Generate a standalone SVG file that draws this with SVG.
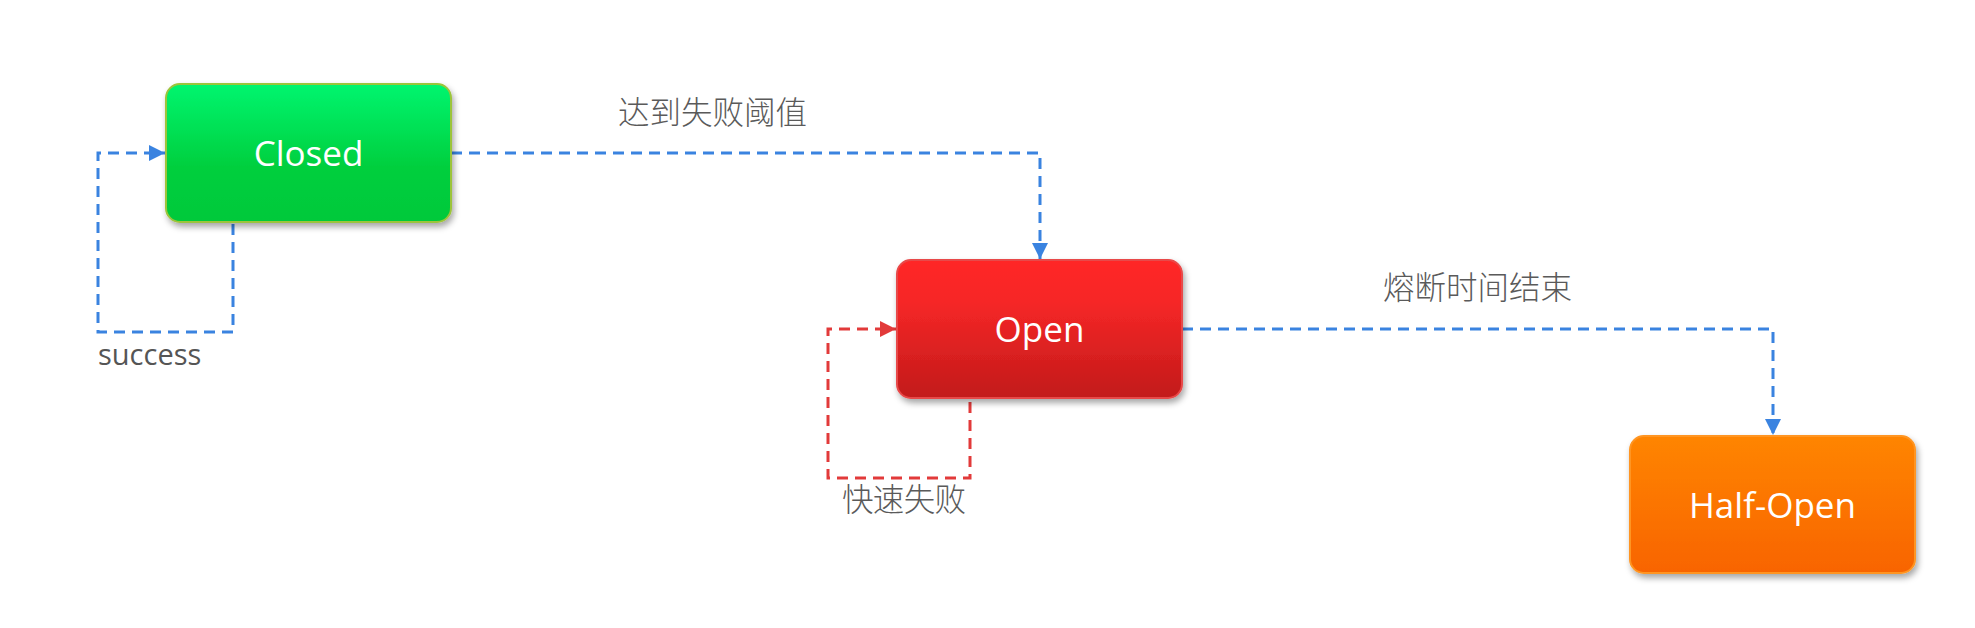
<svg xmlns="http://www.w3.org/2000/svg" width="1975" height="628" viewBox="0 0 1975 628">
<style>
.node-label{font-family:"Open Sans","Noto Sans",sans-serif;font-size:35px;fill:#ffffff;text-anchor:middle;}
.edge-label{font-family:"Noto Sans CJK SC","Noto Sans",sans-serif;font-size:31.5px;font-weight:300;fill:#5a5a5a;}
.latin-label{font-family:"Open Sans","Noto Sans",sans-serif;font-size:29px;fill:#555555;}
.blue{fill:none;stroke:#3a83e0;stroke-width:3;stroke-dasharray:11 7;}
.red{fill:none;stroke:#e23a3a;stroke-width:3;stroke-dasharray:11 7;}
</style>
<defs>
<linearGradient id="gGreen" x1="0" y1="0" x2="0" y2="1">
<stop offset="0" stop-color="#00f56f"/>
<stop offset="0.6" stop-color="#00cf3e"/>
<stop offset="1" stop-color="#00c93a"/>
</linearGradient>
<linearGradient id="gRed" x1="0" y1="0" x2="0" y2="1">
<stop offset="0" stop-color="#ff2828"/>
<stop offset="0.3" stop-color="#f62727"/>
<stop offset="1" stop-color="#c21a1a"/>
</linearGradient>
<linearGradient id="gOrange" x1="0" y1="0" x2="0" y2="1">
<stop offset="0" stop-color="#ff8503"/>
<stop offset="1" stop-color="#f86400"/>
</linearGradient>
<filter id="shadow" x="-10%" y="-10%" width="125%" height="135%">
<feDropShadow dx="2" dy="4" stdDeviation="3" flood-color="#000000" flood-opacity="0.35"/>
</filter>
<marker id="arrowBlue" markerUnits="userSpaceOnUse" markerWidth="16" markerHeight="16" refX="16" refY="8" orient="auto">
<path d="M0,0 L16,8 L0,16 Z" fill="#3a83e0"/>
</marker>
<marker id="arrowRed" markerUnits="userSpaceOnUse" markerWidth="16" markerHeight="16" refX="16" refY="8" orient="auto">
<path d="M0,0 L16,8 L0,16 Z" fill="#e23a3a"/>
</marker>
</defs>
<rect width="1975" height="628" fill="#ffffff"/>
<g id="connectors">
<path class="blue" d="M451,153 H1040 V259" marker-end="url(#arrowBlue)"/>
<path class="blue" d="M233,224 V332 H98 V153 H165" marker-end="url(#arrowBlue)"/>
<path class="blue" d="M1182,329 H1773 V435" marker-end="url(#arrowBlue)"/>
<path class="red" d="M970,402 V478 H828 V329 H896" marker-end="url(#arrowRed)"/>
</g>
<g id="label-threshold"><text class="edge-label" x="618" y="124">达到失败阈值</text></g>
<g id="label-timeout"><text class="edge-label" x="1383" y="299">熔断时间结束</text></g>
<g id="label-success"><text class="latin-label" x="98" y="365">success</text></g>
<g id="label-fastfail"><text class="edge-label" x="842" y="511" textLength="124">快速失败</text></g>
<g id="node-closed">
<rect x="166" y="84" width="285" height="138" rx="14" fill="url(#gGreen)" stroke="#9cc43a" stroke-width="2" filter="url(#shadow)"/>
<text class="node-label" x="308.5" y="166">Closed</text>
</g>
<g id="node-open">
<rect x="897" y="260" width="285" height="138" rx="14" fill="url(#gRed)" stroke="#e84848" stroke-width="2" filter="url(#shadow)"/>
<text class="node-label" x="1039.5" y="342">Open</text>
</g>
<g id="node-halfopen">
<rect x="1630" y="436" width="285" height="137" rx="14" fill="url(#gOrange)" stroke="#ff9520" stroke-width="2" filter="url(#shadow)"/>
<text class="node-label" x="1772.5" y="518">Half-Open</text>
</g>
</svg>
